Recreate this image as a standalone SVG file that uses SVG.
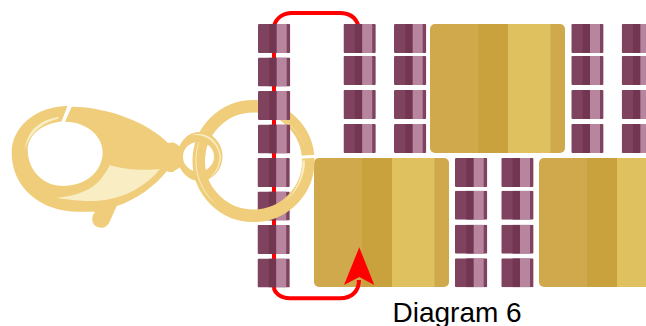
<svg xmlns="http://www.w3.org/2000/svg" width="646" height="326" viewBox="0 0 646 326">
<style>
.g1{fill:#cfa94b}.g2{fill:#c9a23d}.g3{fill:#dfc160}
.m1{fill:#7f4360}.m2{fill:#723650}.m3{fill:#b8859f}
.clasp{fill:#efcd7a}
.hi{fill:#f9edc3}
.ring{fill:none;stroke:#efcd7a;stroke-width:12.5}
.red{fill:none;stroke:#ff0000;stroke-width:4}
</style>
<defs>
<clipPath id="bc"><rect width="32.300" height="29" rx="1.200"/></clipPath>
<clipPath id="gc"><rect width="135" height="129" rx="5"/></clipPath>
<clipPath id="over"><rect x="176" y="128" width="36" height="17"/></clipPath>
<g id="bead" clip-path="url(#bc)">
<rect class="m1" width="32.300" height="29"/>
<rect class="m2" x="11.300" width="7.400" height="29"/>
<rect class="m3" x="18.700" width="10" height="29"/>
</g>
<g id="block" clip-path="url(#gc)">
<rect class="g1" width="135" height="129"/>
<rect class="g2" x="48" width="30" height="129"/>
<rect class="g3" x="78" width="42.500" height="129"/>
</g>
<path id="sring" class="clasp" fill-rule="evenodd" d="M177.500,156.500A22.500,24.500 0 1 1 222.500,156.500A22.500,24.500 0 1 1 177.500,156.500ZM183,156.700A15.500,15 0 1 0 214,156.700A15.500,15 0 1 0 183,156.700Z"/>
</defs>
<g id="blocks">
<use href="#block" x="430" y="24"/>
<use href="#block" x="314" y="158"/>
<use href="#block" x="539" y="158"/>
</g>
<g id="connectors">
<path class="red" d="M274,26V287C274,293 281,298.300 290,298.300H340C352,298.300 359,291 359,280"/>
<path class="red" d="M274,26C276,18 283,13 292,13H340C350,13 356,18 358.500,26"/>
<path d="M359.300,247.300L374.300,285L359.300,277L344,285Z" fill="#ff0000"/>
</g>
<g id="beads-lower-left">
<use href="#bead" x="257.500" y="158"/>
<use href="#bead" x="257.500" y="191.500"/>
<use href="#bead" x="257.500" y="225"/>
<use href="#bead" x="257.500" y="258.500"/>
</g>
<g id="beads">
<use href="#bead" x="343.500" y="24"/><use href="#bead" x="343.500" y="56"/><use href="#bead" x="343.500" y="90"/><use href="#bead" x="343.500" y="124"/>
<use href="#bead" x="394" y="24"/><use href="#bead" x="394" y="56"/><use href="#bead" x="394" y="90"/><use href="#bead" x="394" y="124"/>
<use href="#bead" x="571.300" y="24"/><use href="#bead" x="571.300" y="56"/><use href="#bead" x="571.300" y="90"/><use href="#bead" x="571.300" y="124"/>
<use href="#bead" x="621.700" y="24"/><use href="#bead" x="621.700" y="56"/><use href="#bead" x="621.700" y="90"/><use href="#bead" x="621.700" y="124"/>
<use href="#bead" x="455" y="158"/><use href="#bead" x="455" y="190.700"/><use href="#bead" x="455" y="224.700"/><use href="#bead" x="455" y="258.300"/>
<use href="#bead" x="501.300" y="158"/><use href="#bead" x="501.300" y="190.700"/><use href="#bead" x="501.300" y="224.700"/><use href="#bead" x="501.300" y="258.300"/>
</g>
<g id="clasp">
<path class="clasp" fill-rule="evenodd" d="M68.300,105.700C35,106.500 11.700,127 11.700,153C11.700,187 40,211.700 78,211.700C85,211.700 90,211.700 95,211.700C92.500,215 92,218 92.300,220C93,226 98,228 102,227.700C106,227.500 108,225 110,221L116.700,206C136,200 155,186 167,171C169,172.500 173,172.500 175,170.500L182,166L182,148L177,144.500C175,142 171,142 168,143C150,124 110,107 71.700,106.700L65,121.700C88,122 102.700,137 102.700,152C102.700,172 85,186 63,186C43,186 27.700,170 27.700,150C27.700,135 42,123.500 61.500,121.500Z"/>
<path class="hi" d="M110,165C125,170 145,170.500 160,169C147,185 125,199 98,200.700C85,201.500 68,200 56.700,197.700C75,196 92,191 101.700,178C105,173 108,169 110,165Z"/>
<path class="hi" d="M58.300,116.700C42,120 27,128 24.500,151C28,137 38,124 58.300,118.800Z"/>
</g>
<g id="small-ring">
<use href="#sring"/>
</g>
<g id="big-ring">
<circle class="ring" cx="253.500" cy="161" r="54.750"/>
<path class="hi" d="M206.700,127A56,56 0 0 0 217,205A59,59 0 0 1 206.700,127Z"/>
<path class="hi" d="M281,118.500A54,54 0 0 1 305.500,149A57,57 0 0 0 281,118.500Z"/>
<path class="hi" d="M305,160.500A51,51 0 0 1 284,202A55,55 0 0 0 302.500,160.500Z"/>
<path d="M300,157.200L316,156.200" stroke="#fff" stroke-width="3" fill="none"/>
</g>
<g id="small-ring-over">
<use href="#sring" clip-path="url(#over)"/>
<path class="hi" d="M190,135.500C203,131 218,137 221,156C221,166 216,174 209,178.500C216,172 219.500,165 219.500,156C217,140 203,133 190,135.500Z"/>
</g>
<path d="M69.700,104L62.800,123" stroke="#fff" stroke-width="3" fill="none"/>
<g id="beads-upper-left">
<use href="#bead" x="258" y="24"/>
<use href="#bead" x="258" y="57.500"/>
<use href="#bead" x="258" y="91"/>
<use href="#bead" x="258" y="124.500"/>
</g>
<text x="392.500" y="322" font-family="'Liberation Sans',Arial,sans-serif" font-size="28" fill="#000">Diagram 6</text>
</svg>
